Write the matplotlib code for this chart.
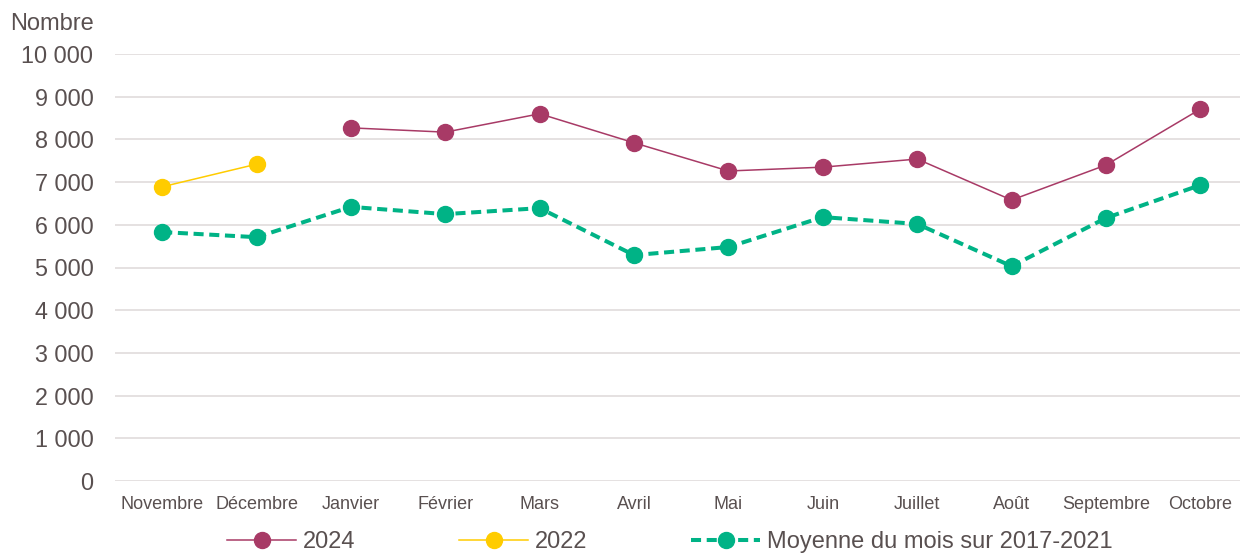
import matplotlib
matplotlib.use("Agg")
import matplotlib.pyplot as plt
from matplotlib.ticker import FuncFormatter

months = ["Novembre", "Décembre", "Janvier", "Février", "Mars", "Avril", "Mai",
          "Juin", "Juillet", "Août", "Septembre", "Octobre"]
s2024 = [None, None, 8270, 8170, 8600, 7920, 7260, 7350, 7540, 6580, 7400, 8710]
s2022 = [6890, 7420, None, None, None, None, None, None, None, None, None, None]
moyenne = [5830, 5710, 6420, 6250, 6390, 5290, 5480, 6180, 6020, 5030, 6160, 6930]

plt.rcParams['font.family'] = ['Liberation Sans', 'DejaVu Sans']
txt = '#595050'

fig = plt.figure(figsize=(12.4, 5.53), dpi=100)
ax = fig.add_axes([115/1240, 72/553, 1 - 115/1240, (499-72)/553])

x = list(range(len(months)))
def pts(vals):
    xs = [i for i, v in zip(x, vals) if v is not None]
    ys = [v for v in vals if v is not None]
    return xs, ys

c24, c22, cm = '#A83A66', '#FFCC00', '#00B386'
xs, ys = pts(s2024)
ax.plot(xs, ys, color=c24, lw=1.1, marker='o', ms=11.5, label='2024', zorder=3)
xs, ys = pts(s2022)
ax.plot(xs, ys, color=c22, lw=1.1, marker='o', ms=11.5, label='2022', zorder=3)
ax.plot(x, moyenne, color=cm, lw=2.9, ls=(0, (2.5, 1.4)), marker='o', ms=11.5,
        label='Moyenne du mois sur 2017-2021', zorder=3)

ax.set_xlim(-0.5, 11.42)
ax.set_ylim(0, 10000)
ax.set_yticks(range(0, 10001, 1000))
ax.yaxis.set_major_formatter(FuncFormatter(lambda v, p: f"{int(v):,}".replace(",", " ")))
ax.set_xticks(x)
ax.set_xticklabels(months)
ax.grid(axis='y', color='#E3DEDE', lw=1.3, zorder=0)
ax.set_axisbelow(True)
for s in ax.spines.values():
    s.set_visible(False)
ax.tick_params(axis='y', length=0, pad=15.5, labelsize=16.8, labelcolor=txt)
ax.tick_params(axis='x', length=0, pad=10.5, labelsize=13, labelcolor=txt)

fig.text(94/1240, 1 - 24/553, 'Nombre', ha='right', va='center', fontsize=17, color=txt)

leg = fig.legend(loc='center', bbox_to_anchor=(670/1240, 11/553), ncol=3, frameon=False,
                 fontsize=17, handlelength=2.9, columnspacing=4.4, handletextpad=0.3,
                 labelcolor=txt, borderpad=0.1)

fig.savefig('out.png', dpi=100)
